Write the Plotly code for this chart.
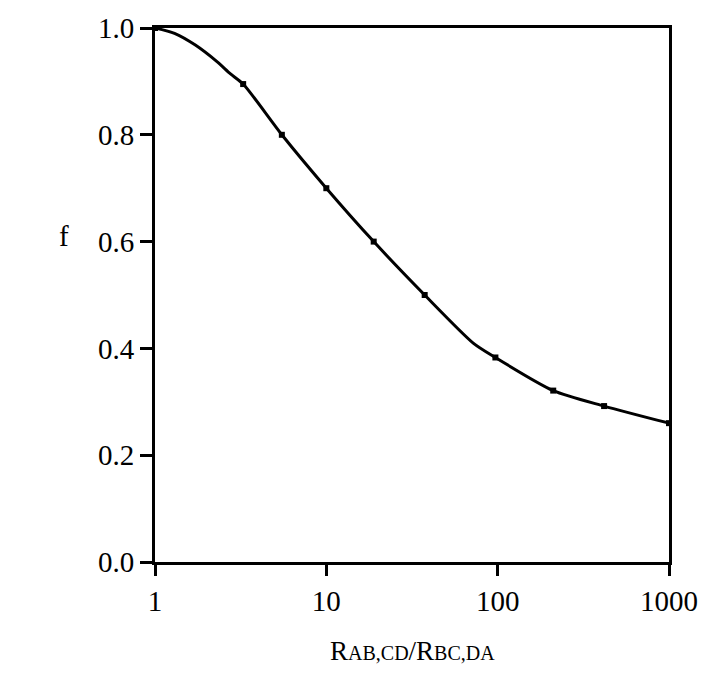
import plotly.graph_objects as go

# measured points (markers)
ratio = [1, 3.27, 5.5, 10, 18.9, 37.5, 97, 211, 418, 1000]
f_vals = [1.0, 0.895, 0.8, 0.7, 0.6, 0.5, 0.383, 0.321, 0.292, 0.26]

# drawn curve
curve_ratio = [1, 1.3, 1.72, 2.3, 2.76, 3.27, 5.5, 10, 18.9, 37.5, 72, 97, 211, 418, 1000]
curve_f = [1.0, 0.99, 0.968, 0.937, 0.914, 0.895, 0.8, 0.7, 0.6, 0.5, 0.41, 0.383, 0.321, 0.292, 0.26]

x_ticks = [1, 10, 100, 1000]
x_tick_text = ["1", "10", "100", "1000"]
y_ticks = [0.0, 0.2, 0.4, 0.6, 0.8, 1.0]
y_tick_text = ["0.0", "0.2", "0.4", "0.6", "0.8", "1.0"]

FONT = "Liberation Serif, Times New Roman, serif"

fig = go.Figure()
fig.add_trace(go.Scatter(
    x=curve_ratio, y=curve_f, mode="lines",
    line=dict(color="black", width=3, shape="spline", smoothing=0.7),
    showlegend=False, cliponaxis=False, hoverinfo="skip",
))
fig.add_trace(go.Scatter(
    x=ratio, y=f_vals, mode="markers",
    marker=dict(color="black", size=6, symbol="square"),
    showlegend=False, cliponaxis=False,
))

fig.update_layout(
    width=710, height=675,
    margin=dict(l=155, r=30, t=27, b=113),
    paper_bgcolor="white", plot_bgcolor="white",
    font=dict(family=FONT, size=29, color="black"),
    xaxis=dict(type="log", range=[0, 3], tickvals=x_ticks, ticktext=x_tick_text,
               ticks="outside", ticklen=11, tickwidth=3, tickcolor="black",
               showline=True, linewidth=3, linecolor="black", mirror=True,
               showgrid=False, zeroline=False),
    yaxis=dict(range=[0, 1.0], tickvals=y_ticks, ticktext=y_tick_text,
               ticks="outside", ticklen=12, tickwidth=3, tickcolor="black",
               showline=True, linewidth=3, linecolor="black", mirror=True,
               showgrid=False, zeroline=False),
    annotations=[
        dict(text="f", x=-0.19, y=0.61, xref="paper", yref="paper",
             showarrow=False, font=dict(family=FONT, size=29, color="black")),
        dict(text="R<span style='font-size:20px'>AB,CD</span>/R<span style='font-size:20px'>BC,DA</span>",
             x=0.5, y=-0.167, xref="paper", yref="paper", xanchor="center", yanchor="middle",
             showarrow=False, font=dict(family=FONT, size=27, color="black")),
    ],
)

fig.write_html("out.html")
